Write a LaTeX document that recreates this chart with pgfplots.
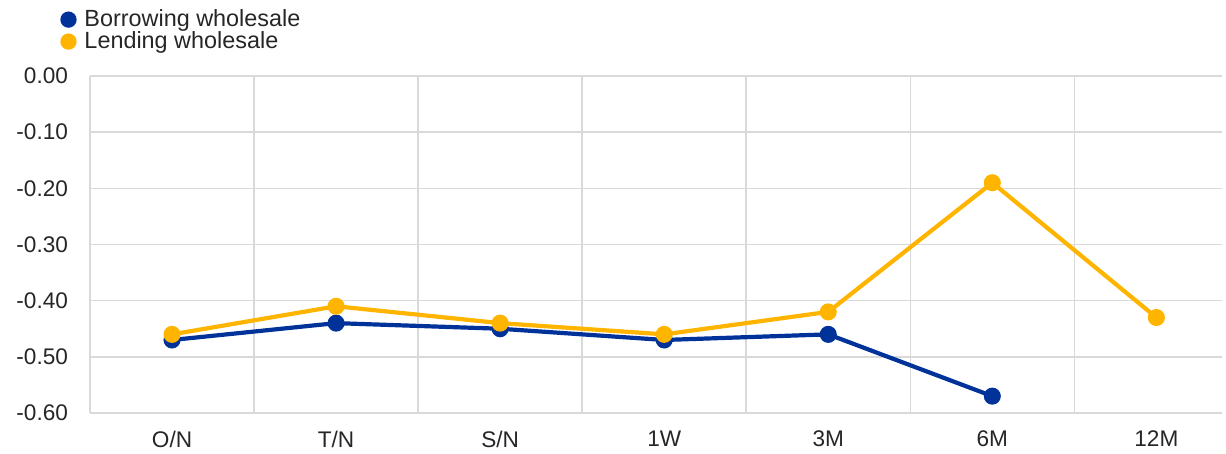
\documentclass[border=0pt]{standalone}
\usepackage{pgfplots}
\pgfplotsset{compat=1.18}
\usepackage{fontspec}
\setmainfont{Liberation Sans}
\definecolor{ecbblue}{HTML}{003299}
\definecolor{ecbyellow}{HTML}{FFB400}
\definecolor{gridgray}{HTML}{D9D9D9}
\definecolor{txt}{HTML}{262626}
\begin{document}
\begin{tikzpicture}
\begin{axis}[
  scale only axis, width=566pt, height=168.5pt,
  xmin=-0.5, xmax=6.4, ymin=-0.6, ymax=0,
  xtick={0,...,6},
  xticklabels={O/N,T/N,S/N,1W,3M,6M,12M},
  minor xtick={-0.5,0.5,1.5,2.5,3.5,4.5,5.5},
  ytick={-0.6,-0.5,...,0},
  /pgf/number format/fixed,
  /pgf/number format/fixed zerofill,
  /pgf/number format/precision=2,
  /pgf/number format/assume math mode=true,
  xmajorgrids=false, xminorgrids=true, ymajorgrids=true,
  grid style={gridgray, line width=0.75pt},
  minor grid style={gridgray, line width=0.75pt},
  axis line style={draw=none},
  major tick length=0pt, minor tick length=0pt,
  tick style={draw=none},
  ticklabel style={font=\fontsize{11.3}{13}\selectfont, text=txt},
  xticklabel style={yshift=-5.5pt},
  yticklabel style={xshift=-7.5pt},
  clip=false,
  legend style={at={(-0.0265,1.21)}, anchor=north west, draw=none, fill=none,
    inner sep=0pt, row sep=-3pt, font=\fontsize{11.7}{11.7}\selectfont, text=txt,
    cells={anchor=west}},
  legend image code/.code={\fill[#1] (0pt,0pt) circle (3pt); \path[draw=none,fill=none] (0pt,0pt) rectangle (6pt,0.1pt);},
]
\coordinate (sw) at (rel axis cs:0,0);
\addplot[ecbblue, line width=2.1pt, mark=*, mark size=3.2pt, mark options={fill=ecbblue, draw=ecbblue}]
  coordinates {(0,-0.47) (1,-0.44) (2,-0.45) (3,-0.47) (4,-0.46) (5,-0.57)};
\addlegendentry{Borrowing wholesale}
\addplot[ecbyellow, line width=2.1pt, mark=*, mark size=3.2pt, mark options={fill=ecbyellow, draw=ecbyellow}]
  coordinates {(0,-0.46) (1,-0.41) (2,-0.44) (3,-0.46) (4,-0.42) (5,-0.19) (6,-0.43)};
\addlegendentry{Lending wholesale}
\end{axis}
\pgfresetboundingbox
\path[use as bounding box] ([shift={(-45pt,-20.5pt)}]sw) rectangle ++(613pt,227pt);
\end{tikzpicture}
\end{document}
